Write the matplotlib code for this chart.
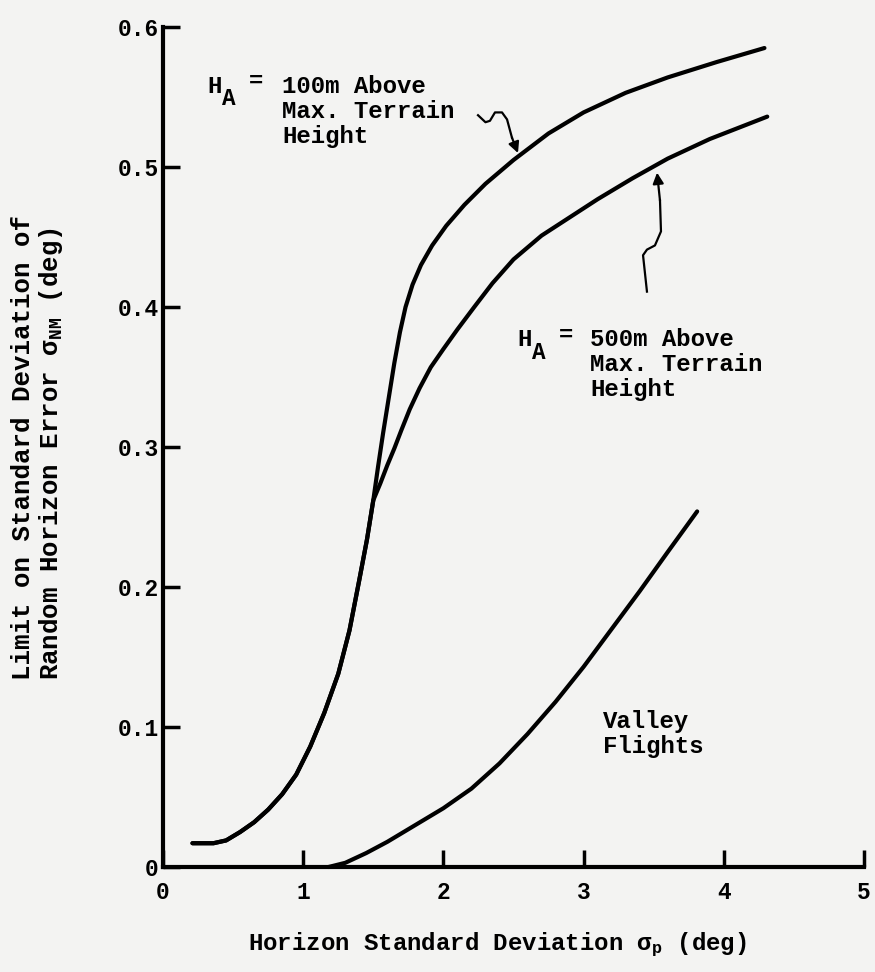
import numpy as np
import matplotlib
matplotlib.use('Agg')
import matplotlib.pyplot as plt

plt.rcParams['font.family'] = ['Liberation Mono', 'DejaVu Sans Mono']
plt.rcParams['font.weight'] = 'bold'
plt.rcParams['mathtext.fontset'] = 'custom'
plt.rcParams['mathtext.rm'] = 'Liberation Mono:bold'
plt.rcParams['mathtext.it'] = 'Liberation Mono:bold'
plt.rcParams['mathtext.default'] = 'rm'

# shared lower part of the two upper curves
x_low = [0.21, 0.36, 0.45, 0.55, 0.65, 0.75, 0.85, 0.95, 1.05, 1.15, 1.25, 1.33, 1.40, 1.455, 1.50]
y_low = [0.017, 0.017, 0.019, 0.025, 0.032, 0.041, 0.052, 0.066, 0.086, 0.110, 0.138, 0.169,
         0.205, 0.234, 0.262]

# H_A = 100m branch
x_100 = [1.534, 1.57, 1.61, 1.65, 1.69, 1.73, 1.78, 1.84, 1.92, 2.02, 2.15, 2.30, 2.50,
         2.75, 3.0, 3.3, 3.6, 3.95, 4.29]
y_100 = [0.286, 0.310, 0.335, 0.360, 0.382, 0.400, 0.416, 0.430, 0.444, 0.458, 0.473, 0.488,
         0.505, 0.524, 0.539, 0.553, 0.564, 0.575, 0.585]

# H_A = 500m branch
x_500 = [1.55, 1.60, 1.65, 1.70, 1.76, 1.83, 1.91, 2.00, 2.10, 2.22, 2.35, 2.50, 2.70, 2.90,
         3.10, 3.35, 3.60, 3.90, 4.31]
y_500 = [0.274, 0.287, 0.299, 0.312, 0.327, 0.342, 0.357, 0.370, 0.384, 0.400, 0.417, 0.434,
         0.451, 0.464, 0.477, 0.492, 0.506, 0.520, 0.536]

# valley flights
x_val = [1.18, 1.30, 1.45, 1.60, 1.80, 2.00, 2.20, 2.40, 2.60, 2.80, 3.00, 3.20, 3.40, 3.60, 3.81]
y_val = [0.0, 0.003, 0.010, 0.018, 0.030, 0.042, 0.056, 0.074, 0.095, 0.118, 0.143, 0.170,
         0.197, 0.225, 0.254]

# hand-drawn pointer arrows
arr1_x = [2.247, 2.300, 2.332, 2.368, 2.418, 2.454, 2.489, 2.532]
arr1_y = [0.537, 0.532, 0.533, 0.539, 0.539, 0.534, 0.521, 0.510]
arr2_x = [3.452, 3.424, 3.452, 3.509, 3.552, 3.545, 3.524]
arr2_y = [0.411, 0.437, 0.441, 0.444, 0.454, 0.476, 0.496]

xticks = [0, 1, 2, 3, 4, 5]
yticks = [0, 0.1, 0.2, 0.3, 0.4, 0.5, 0.6]
ytick_labels = ['0', '0.1', '0.2', '0.3', '0.4', '0.5', '0.6']

bg = '#f3f3f2'
fig = plt.figure(figsize=(8.75, 9.72), dpi=100, facecolor=bg)
ax = fig.add_axes([0.1863, 0.108, 0.8011, 0.8642], facecolor=bg)

lw = 3
style = dict(color='k', lw=lw, solid_capstyle='round', solid_joinstyle='round', clip_on=False)
ax.plot(x_low + x_100, y_low + y_100, **style)
ax.plot(x_low + x_500, y_low + y_500, **style)
ax.plot(x_val, y_val, **style)

for px, py in [(arr1_x, arr1_y), (arr2_x, arr2_y)]:
    ax.plot(px[:-1], py[:-1], color='k', lw=1.6, solid_joinstyle='round')
    ax.annotate('', xy=(px[-1], py[-1]), xytext=(px[-2], py[-2]),
                arrowprops=dict(arrowstyle='-|>', lw=1.6, color='k', mutation_scale=16,
                                shrinkA=0, shrinkB=0))

ax.set_xlim(0, 5)
ax.set_ylim(0, 0.6)
for s in ['top', 'right']:
    ax.spines[s].set_visible(False)
for s in ['left', 'bottom']:
    ax.spines[s].set_linewidth(3)

ax.set_xticks(xticks)
ax.set_xticklabels([str(t) for t in xticks])
ax.set_yticks(yticks)
ax.set_yticklabels(ytick_labels)
ax.tick_params(direction='in', length=12, width=2.5, labelsize=16.5)
ax.tick_params(axis='y', pad=3)
ax.tick_params(axis='x', pad=10)

fs = 17.3
# H_A labels, subscript drawn as its own text
for hx, hy in [(0.314, 0.566), (2.525, 0.385)]:
    ax.text(hx, hy, 'H', fontsize=fs, va='top', ha='left')
    ax.text(hx + 0.107, hy - 0.009, 'A', fontsize=fs - 1, va='top', ha='left')
    ax.text(hx + 0.30, hy - 0.005, '=', fontsize=fs, va='center', ha='left')

ax.text(0.849, 0.566, '100m Above\nMax. Terrain\nHeight', fontsize=fs, va='top', ha='left',
        linespacing=1.12)
ax.text(3.046, 0.385, '500m Above\nMax. Terrain\nHeight', fontsize=fs, va='top', ha='left',
        linespacing=1.12)
ax.text(3.138, 0.112, 'Valley\nFlights', fontsize=fs, va='top', ha='left', linespacing=1.12)

fig.text(38 / 875, 1 - 680 / 972,
         'Limit on Standard Deviation of\nRandom Horizon Error σ$_{NM}$ (deg)',
         rotation=90, fontsize=18.5, ha='center', va='bottom', multialignment='left',
         linespacing=1.05)
fig.text(497 / 875, 1 - 945 / 972, 'Horizon Standard Deviation σ$_{p}$ (deg)',
         fontsize=fs, ha='center', va='center')

fig.savefig('out.png', dpi=100, facecolor=bg)
